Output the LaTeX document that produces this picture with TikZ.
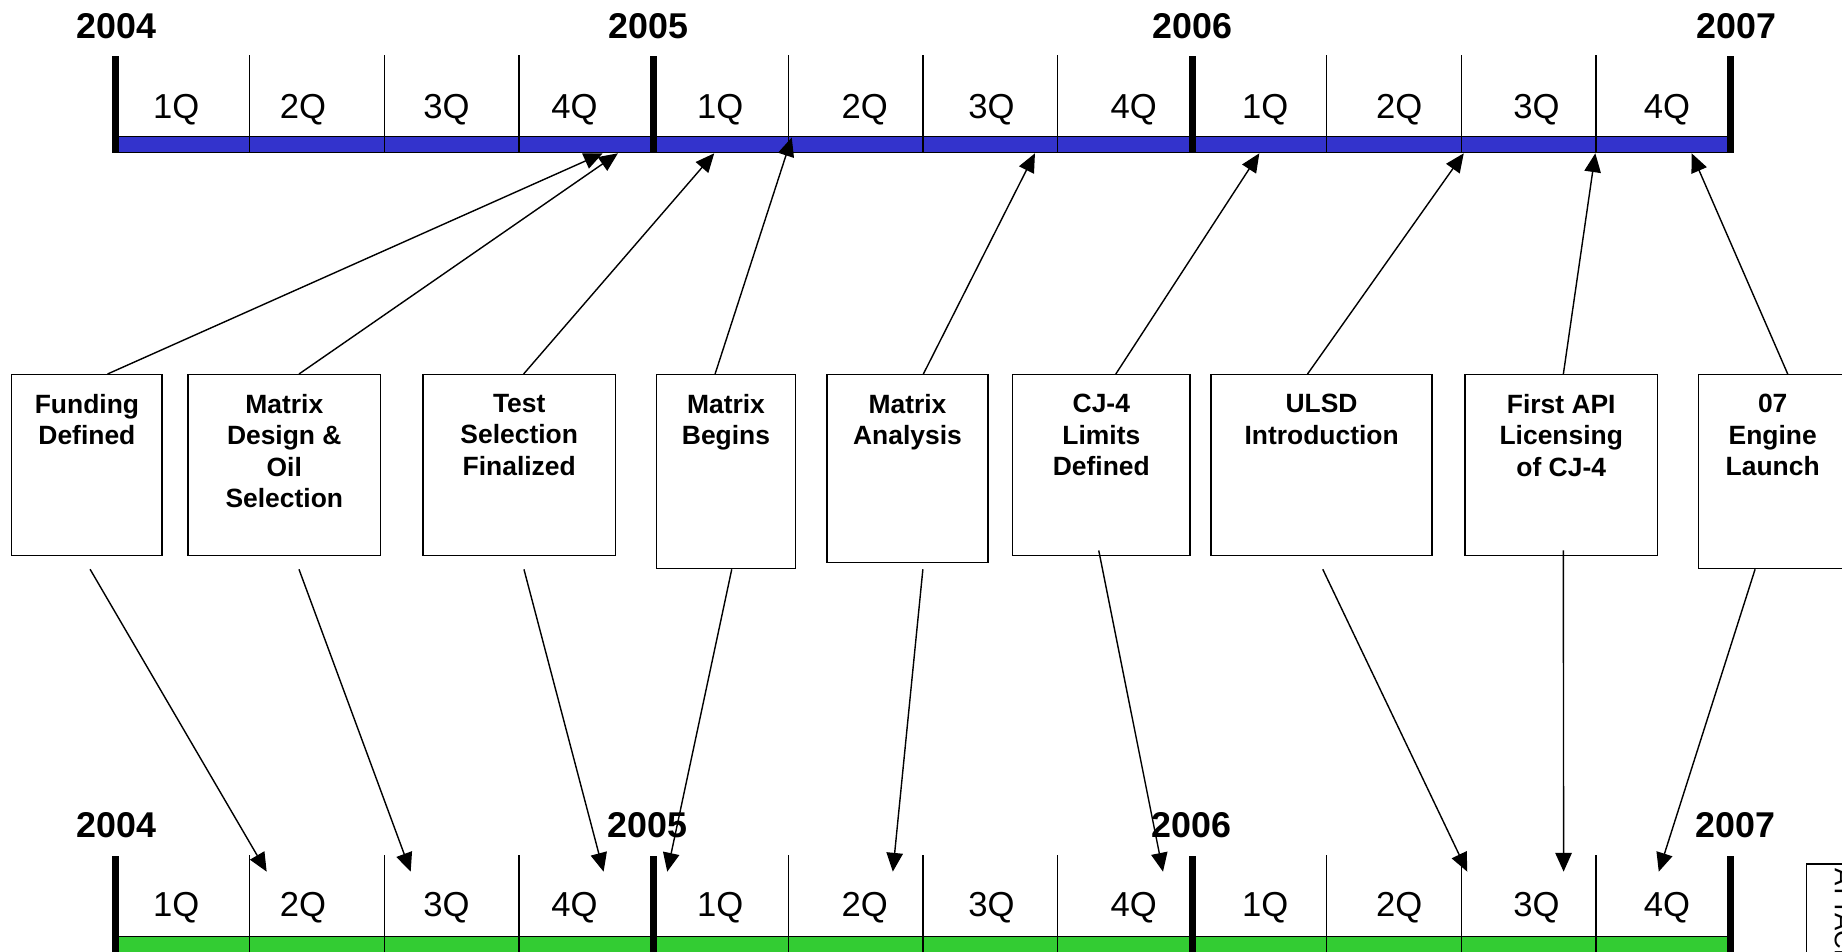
\documentclass[tikz,border=0pt]{standalone}
\usepackage{fontspec}
\setmainfont{Liberation Sans}
\usetikzlibrary{arrows.meta}
\definecolor{barblue}{HTML}{3333CC}
\definecolor{bargreen}{HTML}{33CC33}
\begin{document}
\begin{tikzpicture}[x=1pt,y=-1pt,
  qlab/.style={font=\fontsize{29.5}{34}\selectfont, anchor=base, inner sep=0pt},
  ylab/.style={font=\bfseries\fontsize{30.5}{36}\selectfont, anchor=base, inner sep=0pt},
  evbox/.style={draw, line width=1.2pt, fill=white, inner sep=0pt},
  evtext/.style={font=\bfseries\fontsize{22.5}{26.8}\selectfont, align=center, anchor=north, inner sep=0pt},
  yearbar/.style={line width=6pt},
  qdiv/.style={line width=1.2pt},
  tbar/.style={draw=black, line width=1.2pt},
  conn/.style={line width=1.2pt, -{Triangle[length=16pt,width=14pt]}},
]
\useasboundingbox (0,0) rectangle (1568,810);
\clip (0,0) rectangle (1568,810);
\fill[white] (0,0) rectangle (1568,810);

% ---------- top timeline ----------
\draw[tbar, fill=barblue] (98,116) rectangle (1473.2,130);
\foreach \k in {1,2,3,5,6,7,9,10,11} {
  \draw[qdiv] ({98+114.6*\k},47) -- ({98+114.6*\k},130);
}
\foreach \k in {0,4,8,12} {
  \draw[yearbar] ({98+114.6*\k},48) -- ({98+114.6*\k},130.5);
}
\foreach \x/\q [count=\i] in {150/1,258/2,380/3,489/4,613/1,736/2,844/3,965/4,1077/1,1191/2,1308/3,1419/4} {
  \node[qlab] (qt\i) at (\x,100.6) {\q Q};
}
\node[ylab] (yt1) at (99,32.6) {2004};
\node[ylab] (yt2) at (552,32.6) {2005};
\node[ylab] (yt3) at (1015,32.6) {2006};
\node[ylab] (yt4) at (1478,32.6) {2007};

% ---------- bottom timeline ----------
\draw[tbar, fill=bargreen] (98,797) rectangle (1473.2,830);
\foreach \k in {1,2,3,5,6,7,9,10,11} {
  \draw[qdiv] ({98+114.6*\k},728) -- ({98+114.6*\k},830);
}
\foreach \k in {0,4,8,12} {
  \draw[yearbar] ({98+114.6*\k},729) -- ({98+114.6*\k},830);
}
\foreach \x/\q [count=\i] in {150/1,258/2,380/3,489/4,613/1,736/2,844/3,965/4,1077/1,1191/2,1308/3,1419/4} {
  \node[qlab] (qb\i) at (\x,780) {\q Q};
}
\node[ylab] (yb1) at (99,713) {2004};
\node[ylab] (yb2) at (551,713) {2005};
\node[ylab] (yb3) at (1014.5,713) {2006};
\node[ylab] (yb4) at (1477,713) {2007};

% ---------- attachment box (cut off) ----------
\node[draw, line width=1.1pt, minimum width=80pt, minimum height=200pt, inner sep=0pt, anchor=north west] (att) at (1537,735) {};
\node[rotate=-90, anchor=base west, inner sep=0pt, font=\fontsize{22}{26}\selectfont] (atttext) at (1562,739) {ATTACHMENT};

% ---------- event boxes ----------
\node[evbox, minimum width=128pt, minimum height=154pt] (b1) at (74,396) {};
\node[evbox, minimum width=164pt, minimum height=154pt] (b2) at (242,396) {};
\node[evbox, minimum width=164pt, minimum height=154pt] (b3) at (442,396) {};
\node[evbox, minimum width=118pt, minimum height=165pt] (b4) at (618,401.5) {};
\node[evbox, minimum width=137pt, minimum height=160pt] (b5) at (772.5,399) {};
\node[evbox, minimum width=151pt, minimum height=154pt] (b6) at (937.5,396) {};
\node[evbox, minimum width=188pt, minimum height=154pt] (b7) at (1125,396) {};
\node[evbox, minimum width=164pt, minimum height=154pt] (b8) at (1329,396) {};
\node[evbox, minimum width=126pt, minimum height=165pt] (b9) at (1509,401.5) {};

\node[evtext] (t1) at ([yshift=-17pt]b1.north) {Funding\\Defined};
\node[evtext] (t2) at ([yshift=-17pt]b2.north) {Matrix\\Design \&\\Oil\\Selection};
\node[evtext] (t3) at ([yshift=-17pt]b3.north) {Test\\Selection\\Finalized};
\node[evtext] (t4) at ([yshift=-17pt]b4.north) {Matrix\\Begins};
\node[evtext] (t5) at ([yshift=-17pt]b5.north) {Matrix\\Analysis};
\node[evtext] (t6) at ([yshift=-17pt]b6.north) {CJ-4\\Limits\\Defined};
\node[evtext] (t7) at ([yshift=-17pt]b7.north) {ULSD\\Introduction};
\node[evtext] (t8) at ([yshift=-17pt]b8.north) {First API\\Licensing\\of CJ-4};
\node[evtext] (t9) at ([yshift=-17pt]b9.north) {07\\Engine\\Launch};

% ---------- target points ----------
\coordinate (u1) at (513,130.5);
\coordinate (u2) at (526,130.5);
\coordinate (u3) at (608,130.5);
\coordinate (u4) at (674,117);
\coordinate (u5) at (881,130.5);
\coordinate (u6) at (1072,130.5);
\coordinate (u7) at (1246,130.5);
\coordinate (u8) at (1358,130.5);
\coordinate (u9) at (1440,130.5);

\coordinate (d1) at (227,742);
\coordinate (d2) at (349.6,742);
\coordinate (d3) at (513.8,742);
\coordinate (d4) at (568,742);
\coordinate (d5) at (760,742);
\coordinate (d6) at (990,742);
\coordinate (d7) at (1249,742);
\coordinate (d8) at (1331,742);
\coordinate (d9) at (1412,742);

% ---------- connectors up ----------
\draw[conn] ([xshift=17.5pt]b1.north) -- (u1);
\draw[conn] ([xshift=12.5pt]b2.north) -- (u2);
\draw[conn] ([xshift=3.7pt]b3.north) -- (u3);
\draw[conn] ([xshift=-9.3pt]b4.north) -- (u4);
\draw[conn] ([xshift=13.5pt]b5.north) -- (u5);
\draw[conn] ([xshift=12.3pt]b6.north) -- (u6);
\draw[conn] ([xshift=-12pt]b7.north) -- (u7);
\draw[conn] ([xshift=1.8pt]b8.north) -- (u8);
\draw[conn] ([xshift=12.8pt]b9.north) -- (u9);

% ---------- connectors down ----------
\draw[conn] ([xshift=2.7pt,yshift=-11pt]b1.south) -- (d1);
\draw[conn] ([xshift=12.5pt,yshift=-11pt]b2.south) -- (d2);
\draw[conn] ([xshift=4pt,yshift=-11pt]b3.south) -- (d3);
\draw[conn] ([xshift=4.9pt]b4.south) -- (d4);
\draw[conn] ([xshift=13.1pt,yshift=-5pt]b5.south) -- (d5);
\draw[conn] ([xshift=-2.2pt,yshift=5pt]b6.south) -- (d6);
\draw[conn] ([xshift=1pt,yshift=-11pt]b7.south) -- (d7);
\draw[conn] ([xshift=1.8pt,yshift=5pt]b8.south) -- (d8);
\draw[conn] ([xshift=-15pt]b9.south) -- (d9);
\end{tikzpicture}
\end{document}
